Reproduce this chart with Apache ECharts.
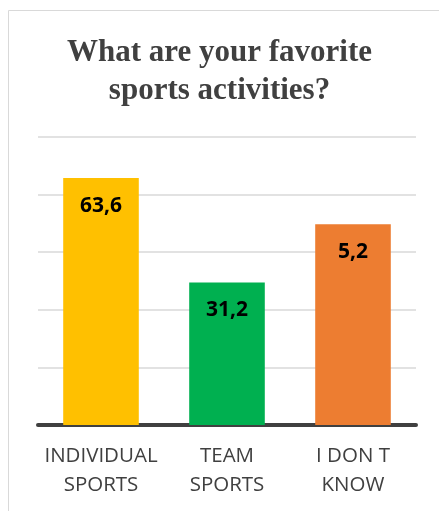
<!DOCTYPE html>
<html>
<head>
<meta charset="utf-8">
<script src="https://cdn.jsdelivr.net/npm/echarts@6/dist/echarts.min.js"></script>
<style>
  html, body { margin: 0; padding: 0; background: #fff; }
  #chart { width: 439px; height: 511px; }
</style>
</head>
<body>
<div id="chart"></div>
<script>
// bar heights (axis 0..75), and the labels printed on the bars
const categories = ['INDIVIDUAL\nSPORTS', 'TEAM\nSPORTS', 'I DON T\nKNOW']
const values = [64.3, 37.1, 52.3]
const valueLabels = ['63,6', '31,2', '5,2']
const colors = ['#FFC000', '#00B050', '#ED7D31']

const myChart = echarts.init(document.getElementById('chart'))
const option = {
    animation: false,
    graphic: [
        {
            type: 'rect',
            shape: { x: 8.5, y: 10.5, width: 440, height: 510 },
            style: { fill: 'none', stroke: '#d9d9d9', lineWidth: 1 }
        }
    ],
    title: {
        text: 'What are your favorite\nsports activities?',
        left: 'center',
        top: 29,
        textStyle: {
            fontFamily: 'Liberation Serif',
            fontWeight: 'bold',
            fontSize: 31,
            lineHeight: 38,
            color: '#404040'
        }
    },
    grid: {
        left: 38,
        right: 23,
        top: 137,
        bottom: 86
    },
    xAxis: {
        type: 'category',
        data: categories,
        axisTick: { show: false },
        axisLine: { lineStyle: { color: '#404040', width: 4 } },
        axisLabel: {
            interval: 0,
            align: 'center',
            margin: 17,
            fontFamily: 'Open Sans',
            fontSize: 20.5,
            lineHeight: 29,
            color: '#404040'
        }
    },
    yAxis: {
        type: 'value',
        min: 0,
        max: 75,
        interval: 15,
        axisLabel: { show: false },
        axisLine: { show: false },
        axisTick: { show: false },
        splitLine: { lineStyle: { color: '#d9d9d9', width: 1.5 } }
    },
    series: [
        {
            type: 'bar',
            barWidth: '60%',
            data: values.map((v, i) => ({ value: v, itemStyle: { color: colors[i] } })),
            label: {
                show: true,
                position: 'insideTop',
                distance: 17,
                formatter: p => valueLabels[p.dataIndex],
                fontFamily: 'Open Sans',
                fontWeight: 'bold',
                fontSize: 21,
                lineHeight: 21,
                color: '#000'
            }
        }
    ]
}
myChart.setOption(option)
</script>
</body>
</html>
